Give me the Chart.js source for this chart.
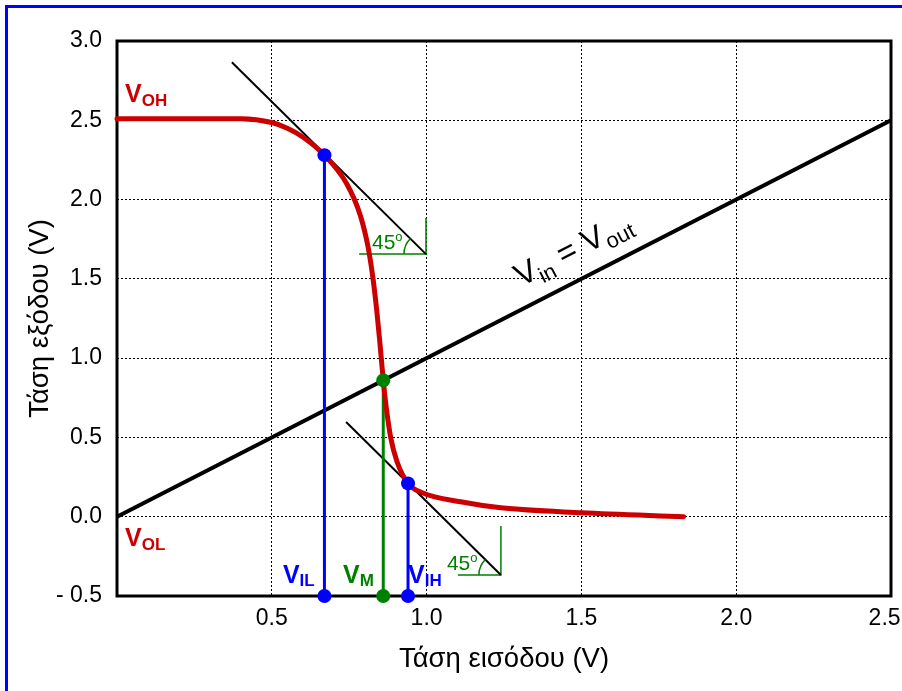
<!DOCTYPE html>
<html>
<head>
<meta charset="utf-8">
<script src="https://cdn.jsdelivr.net/npm/chart.js@4.4.1/dist/chart.umd.min.js"></script>
<style>
  html, body { margin: 0; padding: 0; background: #fff; overflow: hidden; }
  #wrap { position: relative; width: 902px; height: 691px; }
  #frame { position: absolute; left: 5px; top: 5px; width: 1000px; height: 1000px;
           border: 3px solid #0000ff; pointer-events: none; }
  canvas { display: block; }
</style>
</head>
<body>
<div id="wrap">
  <canvas id="c" width="902" height="691"></canvas>
  <div id="frame"></div>
</div>
<script>
// Voltage transfer characteristic of an inverter (input voltage -> output voltage)
const vtcIn  = [0, 0.27, 0.40, 0.50, 0.55, 0.60, 0.67, 0.742, 0.786, 0.811, 0.827, 0.839, 0.849, 0.86, 0.869, 0.884, 0.904, 0.94, 0.988, 1.11, 1.24, 1.5, 1.83];
const vtcOut = [2.51, 2.51, 2.51, 2.486, 2.45, 2.395, 2.28, 2.10, 1.90, 1.70, 1.50, 1.30, 1.10, 0.86, 0.70, 0.50, 0.35, 0.21, 0.15, 0.094, 0.056, 0.025, 0.0];

// Unity-gain reference line Vin = Vout
const unityIn  = [0, 2.5];
const unityOut = [0, 2.5];

// Characteristic points: VIL, VM, VIH
const pointNames = ['IL', 'M', 'IH'];
const pointIn    = [0.67, 0.86, 0.94];
const pointOut   = [2.28, 0.86, 0.21];

// Slope -1 tangents at VIL and VIH
const tangentHighIn  = [0.371, 0.998];
const tangentHighOut = [2.866, 1.656];
const tangentLowIn   = [0.740, 1.240];
const tangentLowOut  = [0.597, -0.368];

// Right-angle guides for the 45° marks
const guideHighIn  = [0.782, 0.998, 0.998];
const guideHighOut = [1.656, 1.656, 1.883];
const guideLowIn   = [1.101, 1.240, 1.240];
const guideLowOut  = [-0.368, -0.368, -0.059];

// Axis ticks and their labels
const xTickValues = [0.5, 1.0, 1.5, 2.0, 2.5];
const xTickLabels = ['0.5', '1.0', '1.5', '2.0', '2.5  '];
const yTickValues = [-0.5, 0, 0.5, 1.0, 1.5, 2.0, 2.5, 3.0];
const yTickLabels = ['- 0.5', '0.0', '0.5', '1.0', '1.5', '2.0', '2.5', '3.0'];

const RED = '#cc0000', BLUE = '#0000ff', GREEN = '#008000', BLACK = '#000000';
const FONT = "'Liberation Sans', Arial, sans-serif";
Chart.defaults.font.family = FONT;

const pts = (xs, ys) => xs.map((x, i) => ({ x, y: ys[i] }));
const Y_MIN = -0.5, Y_MAX = 3.0, X_MIN = 0, X_MAX = 2.5;

const pointColors = [BLUE, GREEN, BLUE];

const datasets = [];
// dots on the curve and on the axis
pointIn.forEach((v, i) => {
  datasets.push({
    data: [{ x: v, y: pointOut[i] }, { x: v, y: Y_MIN }],
    showLine: false, pointRadius: 7, pointBackgroundColor: pointColors[i],
    pointBorderWidth: 0, clip: false
  });
});
// transfer curve
datasets.push({
  data: pts(vtcIn, vtcOut), showLine: true, borderColor: RED, borderWidth: 5,
  pointRadius: 0, cubicInterpolationMode: 'monotone', borderCapStyle: 'round', clip: false
});
// drop lines from the characteristic points
pointIn.forEach((v, i) => {
  datasets.push({
    data: [{ x: v, y: pointOut[i] }, { x: v, y: Y_MIN }],
    showLine: true, borderColor: pointColors[i], borderWidth: 3, pointRadius: 0
  });
});
// tangents
datasets.push({ data: pts(tangentHighIn, tangentHighOut), showLine: true, borderColor: BLACK, borderWidth: 2, pointRadius: 0 });
datasets.push({ data: pts(tangentLowIn, tangentLowOut), showLine: true, borderColor: BLACK, borderWidth: 2, pointRadius: 0 });
// angle guides
datasets.push({ data: pts(guideHighIn, guideHighOut), showLine: true, borderColor: GREEN, borderWidth: 1.5, pointRadius: 0 });
datasets.push({ data: pts(guideLowIn, guideLowOut), showLine: true, borderColor: GREEN, borderWidth: 1.5, pointRadius: 0 });
// Vin = Vout
datasets.push({ data: pts(unityIn, unityOut), showLine: true, borderColor: BLACK, borderWidth: 4, pointRadius: 0, borderCapStyle: 'round' });

function labelFor(values, labels) {
  return (v) => {
    const i = values.findIndex(t => Math.abs(t - v) < 1e-9);
    return i < 0 ? '' : labels[i];
  };
}

// text with a subscript; returns the advance width
function drawSub(ctx, x, y, main, sub, mainFont, subFont, drop) {
  ctx.font = mainFont;
  ctx.fillText(main, x, y);
  const w = ctx.measureText(main).width;
  ctx.font = subFont;
  ctx.fillText(sub, x + w, y + drop);
  return w + ctx.measureText(sub).width;
}

function angleMark(ctx, cx, cy) {
  ctx.strokeStyle = GREEN;
  ctx.lineWidth = 1.5;
  ctx.beginPath();
  ctx.arc(cx, cy, 22, Math.PI, Math.PI * 1.25);
  ctx.stroke();
  ctx.fillStyle = GREEN;
  ctx.font = '21px ' + FONT;
  ctx.fillText('45', cx - 54, cy - 5);
  const w = ctx.measureText('45').width;
  ctx.font = '13px ' + FONT;
  ctx.fillText('o', cx - 54 + w, cy - 13);
}

const overlay = {
  id: 'overlay',
  beforeDatasetsDraw(chart) {
    const { ctx, chartArea: a } = chart;
    ctx.save();
    ctx.strokeStyle = BLACK;
    ctx.lineWidth = 3;
    ctx.strokeRect(a.left, a.top, a.right - a.left, a.bottom - a.top);
    ctx.restore();
  },
  afterDatasetsDraw(chart) {
    const { ctx, scales: { x, y } } = chart;
    ctx.save();
    ctx.textAlign = 'left';
    ctx.textBaseline = 'alphabetic';
    const bold = (s) => 'bold ' + s + 'px ' + FONT;

    // output levels
    ctx.fillStyle = RED;
    drawSub(ctx, x.getPixelForValue(0.026), y.getPixelForValue(2.614), 'V', 'OH', bold(25), bold(17), 4);
    drawSub(ctx, x.getPixelForValue(0.026), y.getPixelForValue(-0.185), 'V', 'OL', bold(25), bold(17), 4);

    // characteristic point names
    const nameX = [0.536, 0.730, 0.940];
    pointNames.forEach((n, i) => {
      ctx.fillStyle = pointColors[i];
      drawSub(ctx, x.getPixelForValue(nameX[i]), y.getPixelForValue(-0.418), 'V', n, bold(25), bold(17), 3);
    });

    // 45° marks at the tangent ends
    angleMark(ctx, x.getPixelForValue(tangentHighIn[1]), y.getPixelForValue(tangentHighOut[1]));
    angleMark(ctx, x.getPixelForValue(tangentLowIn[1]), y.getPixelForValue(tangentLowOut[1]));

    // Vin = Vout label along the unity line
    const p0x = x.getPixelForValue(unityIn[0]), p0y = y.getPixelForValue(unityOut[0]);
    const p1x = x.getPixelForValue(unityIn[1]), p1y = y.getPixelForValue(unityOut[1]);
    const ang = Math.atan2(p1y - p0y, p1x - p0x);
    ctx.translate(x.getPixelForValue(1.305), y.getPixelForValue(1.448));
    ctx.rotate(ang);
    ctx.fillStyle = BLACK;
    const big = '32px ' + FONT, small = '22px ' + FONT;
    let cx = 0;
    cx += drawSub(ctx, cx, 0, 'V', 'in', big, small, 7);
    ctx.font = big;
    ctx.fillText(' = ', cx, 0);
    cx += ctx.measureText(' = ').width;
    drawSub(ctx, cx, 0, 'V', 'out', big, small, 7);
    ctx.restore();
  }
};

new Chart(document.getElementById('c'), {
  type: 'scatter',
  data: { datasets },
  plugins: [overlay],
  options: {
    responsive: false,
    animation: false,
    devicePixelRatio: 1,
    layout: { padding: { left: 0, top: 41, right: 11, bottom: 0 } },
    plugins: { legend: { display: false }, tooltip: { enabled: false } },
    scales: {
      x: {
        type: 'linear', min: X_MIN, max: X_MAX,
        afterFit(s) { s.height = 95; s.paddingLeft = 0; s.paddingRight = 0; },
        ticks: { stepSize: 0.5, padding: 9, color: BLACK, font: { size: 23 },
                 maxRotation: 0, autoSkip: false, callback: labelFor(xTickValues, xTickLabels) },
        grid: { color: BLACK, lineWidth: 1, drawTicks: false },
        border: { display: false, dash: [2, 2] },
        title: { display: true, text: 'Τάση εισόδου (V)', color: BLACK,
                 font: { size: 27.5 }, padding: { top: 0, bottom: 15.5 } }
      },
      y: {
        type: 'linear', min: Y_MIN, max: Y_MAX,
        afterFit(s) { s.width = 117; s.paddingTop = 0; s.paddingBottom = 0; },
        ticks: { stepSize: 0.5, padding: 15, color: BLACK, font: { size: 23 },
                 autoSkip: false, callback: labelFor(yTickValues, yTickLabels) },
        grid: { color: BLACK, lineWidth: 1, drawTicks: false },
        border: { display: false, dash: [2, 2] },
        title: { display: true, text: 'Τάση εξόδου (V)', color: BLACK,
                 font: { size: 27.5 }, padding: { top: 23.5, bottom: 0 } }
      }
    }
  }
});
</script>
</body>
</html>
